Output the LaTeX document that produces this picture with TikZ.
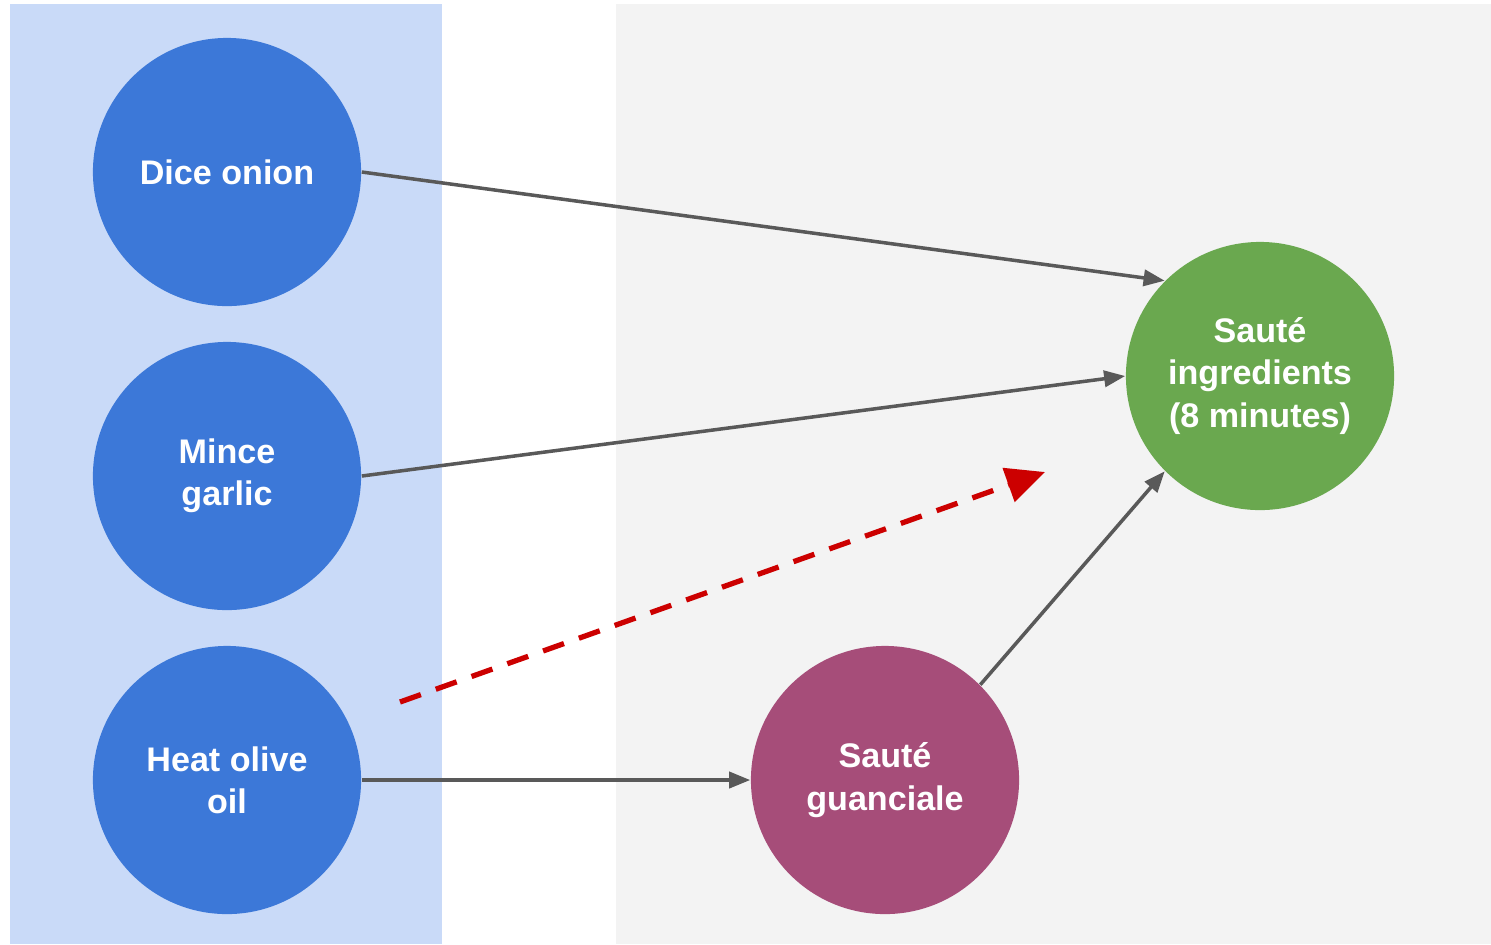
\documentclass[tikz,border=0pt]{standalone}
\usepackage{fontspec}
\setmainfont{Liberation Sans}
\usetikzlibrary{arrows.meta}
\definecolor{panelblue}{HTML}{C9DAF8}
\definecolor{panelgray}{HTML}{F3F3F3}
\definecolor{stepblue}{HTML}{3C78D8}
\definecolor{stepgreen}{HTML}{6AA84F}
\definecolor{stepplum}{HTML}{A64D79}
\definecolor{linkgray}{HTML}{595959}
\definecolor{hintred}{HTML}{CC0000}
\tikzset{
    task/.style={circle,minimum size=2.68cm,inner sep=0pt,text=white,align=center,
        font=\fontsize{9.7}{12}\selectfont\bfseries},
    link/.style={draw=linkgray,line width=1pt,-{Triangle[length=6pt,width=4.6pt]}},
}
\begin{document}
\begin{tikzpicture}[x=0.01cm,y=-0.01cm]
    \useasboundingbox (0,0) rectangle (1491,944);
    \fill[panelblue] (10,4) rectangle (442,944);
    \fill[panelgray] (616,4) rectangle (1491,944);
    \node[task,fill=stepblue] (onion) at (227,172) {Dice onion};
    \node[task,fill=stepblue] (garlic) at (227,476) {Mince\\garlic};
    \node[task,fill=stepblue] (oil) at (227,780) {Heat olive\\oil};
    \node[task,fill=stepplum] (guanciale) at (885,780) {Sauté\\guanciale};
    \node[task,fill=stepgreen] (saute) at (1260,376) {Sauté\\ingredients\\(8 minutes)};
    \draw[link] (onion.east)--(saute.135);
    \draw[link] (garlic.east)--(saute.west);
    \draw[link] (oil.east)--(guanciale.west);
    \draw[link] (guanciale.45)--(saute.225);
    %虚线箭头的两个端点
    \coordinate (hintstart) at (400,702);
    \coordinate (hintend) at (1045,472);
    \draw[hintred,line width=1.5pt,dash pattern=on 6.3pt off 4.5pt,
        -{Triangle[length=11pt,width=10pt]}] (hintstart)--(hintend);
\end{tikzpicture}
\end{document}
